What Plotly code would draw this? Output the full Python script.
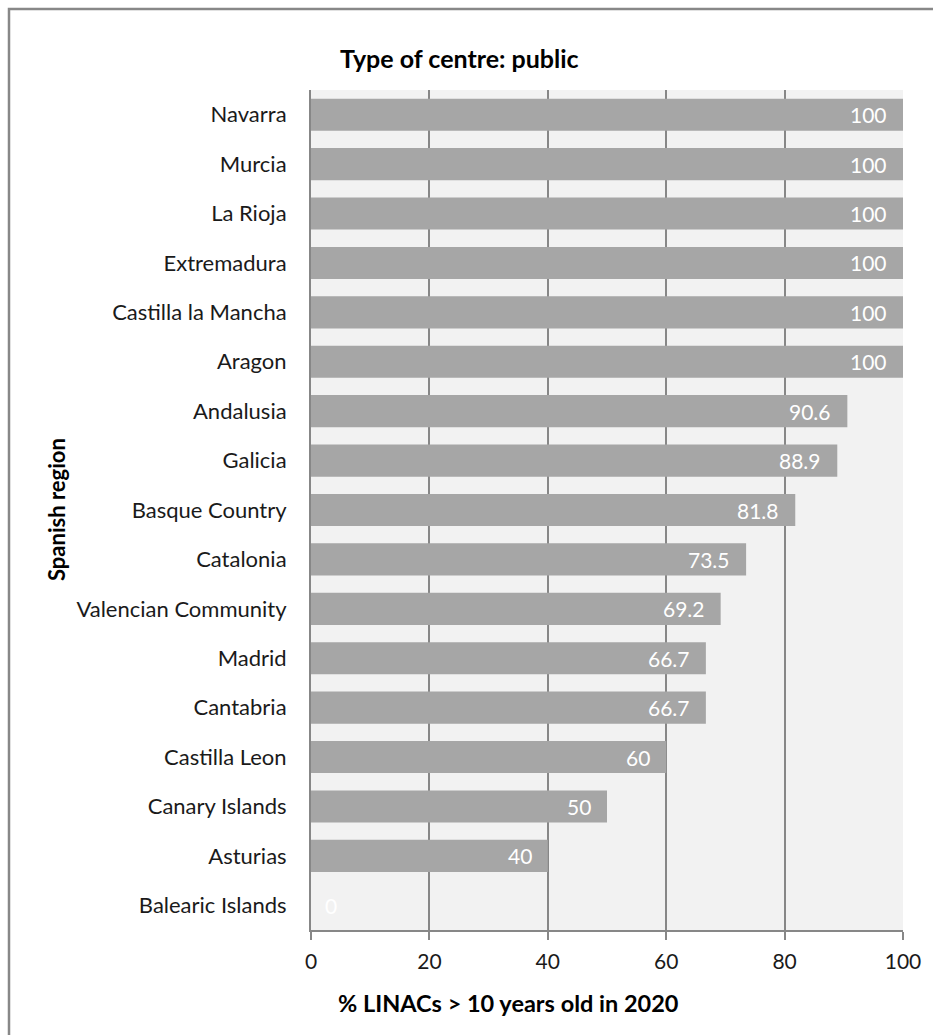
import plotly.graph_objects as go

regions = ["Navarra", "Murcia", "La Rioja", "Extremadura", "Castilla la Mancha", "Aragon",
           "Andalusia", "Galicia", "Basque Country", "Catalonia", "Valencian Community",
           "Madrid", "Cantabria", "Castilla Leon", "Canary Islands", "Asturias", "Balearic Islands"]
values = [100, 100, 100, 100, 100, 100, 90.6, 88.9, 81.8, 73.5, 69.2, 66.7, 66.7, 60, 50, 40, 0]
labels = ["100", "100", "100", "100", "100", "100", "90.6", "88.9", "81.8", "73.5", "69.2",
          "66.7", "66.7", "60", "50", "40", "0"]
x_ticks = [0, 20, 40, 60, 80, 100]

title_text = "Type of centre: public"
x_title = "% LINACs > 10 years old in 2020"
y_title = "Spanish region"

FONT = "Lato"
W, H = 933, 1035
ML, MR, MT, MB = 311, 30, 90, 105
PW, PH = W - ML - MR, H - MT - MB

fig = go.Figure()
fig.add_trace(go.Bar(
    x=values, y=regions, orientation="h",
    marker=dict(color="#a6a6a6", line=dict(width=0)),
    width=0.65, hoverinfo="x+y",
))

annotations = []
for r, v, t in zip(regions, values, labels):
    big = v > 5
    annotations.append(dict(
        x=v, y=r, xref="x", yref="y", text=t, showarrow=False,
        xanchor="right" if big else "left", xshift=-14 if big else 12,
        font=dict(family=FONT, size=21, color="#ffffff"),
    ))

def px_to_paper_x(px):
    return (px - ML) / PW

def px_to_paper_y(py):
    return (H - MB - py) / PH

annotations.append(dict(
    x=px_to_paper_x(459), y=px_to_paper_y(58), xref="paper", yref="paper",
    text="<b>" + title_text + "</b>", showarrow=False, xanchor="center", yanchor="middle",
    font=dict(family=FONT, size=25, color="#000000")))
annotations.append(dict(
    x=px_to_paper_x(508), y=px_to_paper_y(1003), xref="paper", yref="paper",
    text="<b>" + x_title + "</b>", showarrow=False, xanchor="center", yanchor="middle",
    font=dict(family=FONT, size=23.5, color="#000000")))
annotations.append(dict(
    x=px_to_paper_x(56), y=px_to_paper_y(510), xref="paper", yref="paper",
    text="<b>" + y_title + "</b>", showarrow=False, xanchor="center", yanchor="middle",
    textangle=-90, font=dict(family=FONT, size=22, color="#000000")))

fig.update_layout(
    width=W, height=H,
    margin=dict(l=ML, r=MR, t=MT, b=MB, pad=0),
    paper_bgcolor="#ffffff", plot_bgcolor="#f2f2f2",
    showlegend=False, bargap=0.35,
    annotations=annotations,
    shapes=[dict(type="rect", xref="paper", yref="paper",
                 x0=px_to_paper_x(9), x1=px_to_paper_x(960),
                 y0=px_to_paper_y(1060), y1=px_to_paper_y(9),
                 line=dict(color="#888888", width=2.5), fillcolor="rgba(0,0,0,0)", layer="below")],
    font=dict(family=FONT, size=22, color="#1a1a1a"),
)
fig.update_xaxes(
    range=[0, 100], tickvals=x_ticks, ticktext=[str(v) for v in x_ticks],
    showgrid=True, gridcolor="#878787", gridwidth=2,
    showline=True, linecolor="#878787", linewidth=2,
    ticks="outside", ticklen=8, tickwidth=2, tickcolor="#878787",
    ticklabelstandoff=4,
    tickfont=dict(family=FONT, size=21, color="#1a1a1a"),
    zeroline=False, fixedrange=True,
)
fig.update_yaxes(
    categoryorder="array", categoryarray=regions, autorange="reversed",
    showgrid=False, showline=True, linecolor="#878787", linewidth=2,
    ticks="", ticklabelstandoff=18,
    tickfont=dict(family=FONT, size=22, color="#1a1a1a"),
    zeroline=False, fixedrange=True,
)

fig.write_html("out.html")
